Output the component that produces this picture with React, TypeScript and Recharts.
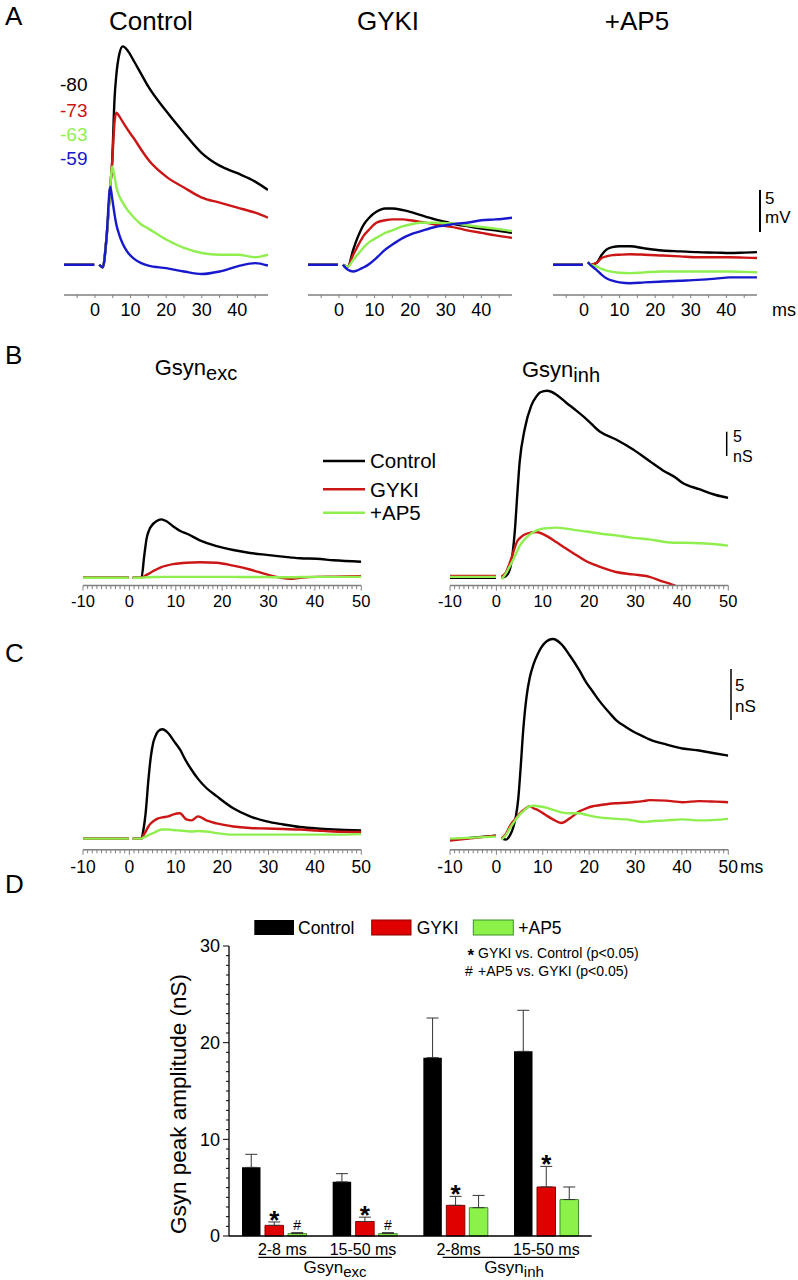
import React from "react";
import { LineChart, Line, XAxis, YAxis, BarChart, Bar, ErrorBar, LabelList } from "recharts";

const FONT = '"Liberation Sans", Arial, Helvetica, sans-serif';
const BLACK = "#000000";
const RED = "#cc1515";
const GREEN = "#8fef4f";
const BLUE = "#1818cc";
const AXIS_GRAY = "#7f7f7f";

// ---------- A: membrane potential, mV relative to baseline ----------
const ctrlTime = [-8.7, -0.2, 0.5, 1.2, 2.2, 3.2, 4.3, 4.8, 5.5, 6.0, 6.8, 7.8, 9, 11, 13, 15, 20, 25, 30, 35, 40, 45, 48.6];
const ctrlV80 = [0, 0, null, 0, -0.3, 3.0, 9.3, 12.0, 19.8, 22.6, 25.0, 26.0, 25.6, 24.2, 22.7, 21.2, 18.3, 15.7, 13.3, 11.8, 10.9, 9.9, 8.9];
const ctrlV73 = [0, 0, null, 0, -0.3, 3.0, 9.3, 12.0, 17.0, 18.1, 17.7, 17.0, 16.2, 15.0, 13.7, 12.5, 10.5, 9.2, 8.0, 7.4, 6.8, 6.2, 5.6];
const ctrlV63 = [0, 0, null, 0, -0.3, 3.0, 9.3, 11.7, 10.5, 9.3, 8.2, 7.4, 6.6, 5.6, 4.8, 4.3, 3.0, 2.0, 1.4, 1.2, 1.2, 0.9, 1.2];
const ctrlV59 = [0, 0, null, 0, -0.3, 3.0, 9.3, 8.0, 6.0, 4.8, 3.6, 2.5, 1.6, 0.7, 0.2, -0.1, -0.4, -0.8, -1.1, -0.8, -0.2, 0.2, -0.1];

const gykiTime = [-8.7, -0.3, 0.4, 1.1, 2.5, 4, 5, 6, 7, 8.5, 10.5, 13, 15, 18, 20, 23, 27, 30, 33, 36, 40, 44, 48.6];
const gykiV80 = [0, 0, null, 0, -0.2, 1.8, 3.0, 4.0, 4.8, 5.6, 6.3, 6.7, 6.7, 6.5, 6.3, 5.9, 5.4, 5.1, 4.8, 4.6, 4.3, 4.1, 3.8];
const gykiV73 = [0, 0, null, 0, -0.2, 1.2, 2.0, 2.8, 3.5, 4.2, 5.0, 5.3, 5.4, 5.4, 5.3, 5.1, 4.8, 4.6, 4.4, 4.1, 3.8, 3.5, 3.2];
const gykiV63 = [0, 0, null, 0, -0.2, 0.6, 1.1, 1.6, 2.1, 2.7, 3.2, 3.8, 4.1, 4.6, 4.8, 5.0, 5.0, 4.95, 4.9, 4.7, 4.5, 4.3, 4.0];
const gykiV59 = [0, 0, null, 0, -0.6, -0.8, -0.7, -0.5, -0.3, 0.1, 0.8, 1.8, 2.4, 3.2, 3.6, 4.0, 4.5, 4.7, 4.9, 5.0, 5.3, 5.4, 5.6];

const ap5Time = [-8.7, -0.3, 0.4, 1.1, 2, 3.5, 5, 6.3, 8, 10, 13, 17, 22, 27, 32, 37, 41, 45, 48.6];
const ap5V80 = [0, 0, null, 0.3, 0, 0.2, 1.2, 1.8, 2.1, 2.2, 2.2, 1.95, 1.7, 1.6, 1.5, 1.45, 1.4, 1.45, 1.5];
const ap5V73 = [0, 0, null, 0.3, 0, 0.2, 0.8, 1.0, 1.15, 1.2, 1.25, 1.2, 1.1, 1.0, 0.9, 0.9, 0.9, 0.85, 0.8];
const ap5V63 = [0, 0, null, 0.3, 0, -0.2, -0.5, -0.7, -0.85, -0.95, -1.0, -0.9, -0.8, -0.8, -0.8, -0.8, -0.8, -0.85, -0.9];
const ap5V59 = [0, 0, null, 0.3, -0.1, -0.6, -1.2, -1.6, -1.9, -2.1, -2.2, -2.1, -2.0, -1.9, -1.8, -1.65, -1.5, -1.5, -1.5];

const aTicks = [-5, 0, 5, 10, 15, 20, 25, 30, 35, 40, 45];

// ---------- B: conductances, nS ----------
const bExcTime = [-10, -0.1, 0.3, 0.7, 2.6, 3.2, 3.7, 4.3, 4.8, 5.8, 6.9, 8, 9.4, 11, 12.3, 15.2, 18.8, 22.4, 26, 29.6, 32.5, 34.6, 36.8, 40.4, 44, 50];
const bExcControl = [0, 0, null, 0, 0, 4.5, 8.0, 9.9, 10.7, 11.6, 12.0, 11.6, 10.6, 9.6, 9.1, 7.7, 6.5, 5.7, 5.1, 4.7, 4.4, 4.2, 4.0, 3.9, 3.6, 3.3];
const bExcGyki = [0, 0, null, 0, 0, 0.3, 0.6, 0.9, 1.2, 1.7, 2.2, 2.5, 2.8, 3.0, 3.1, 3.2, 3.1, 2.5, 1.7, 0.7, 0.05, -0.2, 0, 0.2, 0.25, 0.35];
const bExcAp5 = [0, 0, null, 0, 0, 0.05, 0.1, 0.1, 0.15, 0.15, 0.2, 0.2, 0.2, 0.2, 0.2, 0.2, 0.2, 0.2, 0.15, 0.15, 0.1, 0.1, 0.15, 0.2, 0.2, 0.2];

const bInhTime = [-10, -0.1, 0.4, 1.1, 2.0, 2.9, 3.5, 4.0, 4.5, 5.0, 6.1, 7.5, 8.6, 9.5, 11, 12.8, 15, 17, 19.4, 22.2, 25.8, 29.4, 33, 36, 38.6, 40.1, 43.7, 47.3, 50];
const bInhControl = [0, 0, null, 0, 0.3, 1.7, 5.0, 9.9, 17.0, 23.6, 30.5, 35.3, 37.2, 38.1, 38.4, 37.7, 36.0, 34.5, 32.6, 30.1, 28.4, 26.4, 24.0, 22.0, 20.6, 19.5, 18.2, 17.0, 16.4];
const bInhGyki = [0.4, 0.4, null, 0.3, 1.0, 3.1, 4.8, 6.3, 7.5, 8.1, 8.9, 9.3, 9.4, 9.2, 8.5, 7.4, 6.0, 4.8, 3.4, 2.3, 1.2, 0.7, 0.2, -0.8, -1.6, null, null, null, null];
const bInhAp5 = [0.2, 0.2, null, -0.3, 0.8, 2.4, 3.5, 4.5, 5.5, 6.5, 7.9, 9.1, 9.7, 10.0, 10.2, 10.3, 10.1, 9.8, 9.5, 9.1, 8.7, 8.2, 7.9, 7.4, 7.2, 7.2, 7.1, 6.9, 6.6];

// ---------- C: conductances, nS ----------
const cExcTime = [-10, -0.1, 0.3, 0.7, 2.6, 3.0, 3.5, 4.1, 4.6, 5.1, 5.6, 6.2, 7.1, 8.4, 9.5, 10.9, 12.3, 13.4, 14.8, 16.6, 18.8, 22.4, 26, 29.6, 33.2, 36.8, 40.4, 44, 50];
const cExcControl = [0, 0, null, 0, 0, 0.8, 2.5, 5.8, 8.0, 9.4, 10.1, 10.6, 10.8, 10.4, 9.7, 8.8, 7.6, 6.8, 5.9, 5.0, 4.2, 3.0, 2.2, 1.7, 1.4, 1.15, 1.0, 0.9, 0.8];
const cExcGyki = [0, 0, null, 0, 0, 0.3, 0.7, 1.2, 1.5, 1.7, 1.85, 2.0, 2.1, 2.2, 2.4, 2.5, 1.9, 1.8, 2.2, 1.8, 1.5, 1.2, 1.05, 1.0, 0.95, 0.9, 0.8, 0.7, 0.65];
const cExcAp5 = [0, 0, null, 0, 0, 0.1, 0.2, 0.35, 0.45, 0.55, 0.65, 0.8, 0.9, 0.9, 0.85, 0.8, 0.75, 0.7, 0.75, 0.7, 0.55, 0.4, 0.4, 0.4, 0.4, 0.4, 0.4, 0.4, 0.45];

const cInhTime = [-10, -0.1, 0.4, 1.1, 2.1, 3.0, 3.6, 4.2, 4.7, 5.2, 5.8, 6.5, 7.2, 8.0, 9.0, 10.4, 12.2, 14.0, 15.8, 17.9, 19.4, 20.8, 22.2, 24.4, 25.8, 28, 29.4, 31.6, 33, 36.6, 40.1, 43.7, 47.3, 50];
const cInhControl = [-0.1, 0.3, null, 0.1, -0.1, 0.4, 1.05, 2.2, 3.85, 6.8, 10.8, 14.0, 15.9, 17.2, 18.3, 19.3, 19.7, 19.2, 18.1, 16.6, 15.4, 14.5, 13.6, 12.4, 11.7, 11.0, 10.6, 10.1, 9.8, 9.3, 8.9, 8.7, 8.4, 8.2];
const cInhGyki = [-0.2, 0.3, null, 0.0, 0.5, 1.3, 1.7, 2.0, 2.3, 2.55, 2.8, 3.05, 3.2, 3.0, 2.8, 2.4, 1.9, 1.55, 2.0, 2.7, 3.0, 3.2, 3.3, 3.45, 3.5, 3.55, 3.6, 3.7, 3.8, 3.75, 3.6, 3.7, 3.65, 3.6];
const cInhAp5 = [0.0, 0.2, null, -0.1, 0.4, 1.1, 1.5, 1.9, 2.2, 2.45, 2.7, 3.0, 3.2, 3.25, 3.2, 3.1, 2.85, 2.6, 2.5, 2.5, 2.35, 2.2, 2.1, 2.0, 1.95, 1.9, 1.8, 1.65, 1.7, 1.8, 1.9, 1.8, 1.85, 1.95];

const rulerTicks = Array.from({ length: 61 }, (_, i) => i - 10);

// ---------- D: peak amplitudes ----------
const dKeys = ["exc-early", "exc-late", "inh-early", "inh-late"];
const dCategories = ["2-8 ms", "15-50 ms", "2-8ms", "15-50 ms"];
const dControl = [7.1, 5.6, 18.45, 19.1];
const dControlErr = [1.35, 0.85, 4.1, 4.25];
const dGyki = [1.1, 1.5, 3.17, 5.07];
const dGykiErr = [0.35, 0.45, 0.93, 2.13];
const dAp5 = [0.25, 0.25, 2.93, 3.77];
const dAp5Err = [0.1, 0.1, 1.27, 1.3];
const dGykiSig = ["*", "*", "*", "*"];
const dAp5Sig = ["#", "#", "", ""];
const dYTicks = Array.from({ length: 31 }, (_, i) => i);

const rows = (time: number[], cols: Record<string, (number | null)[]>) =>
  time.map((t, i) => {
    const r: any = { t };
    for (const k in cols) r[k] = cols[k][i];
    return r;
  });

const vmSeries = [
  { key: "v80", color: BLACK },
  { key: "v73", color: RED },
  { key: "v63", color: GREEN },
  { key: "v59", color: BLUE },
];
const gSeries = [
  { key: "control", color: BLACK },
  { key: "gyki", color: RED },
  { key: "ap5", color: GREEN },
];

const PAD = 24; // side room so edge tick labels are not cut

const TraceTick = (p: any) => {
  const { x, y, payload, fontSize, labelOffset, tickLen, majorLen } = p;
  const v = payload.value;
  const isLabel = Math.abs(v % 10) < 1e-6;
  return (
    <g>
      <line x1={x} x2={x} y1={y} y2={y + (isLabel ? majorLen : tickLen)} stroke={AXIS_GRAY} strokeWidth={1} />
      {isLabel && (
        <text x={x} y={y + labelOffset + fontSize * 0.36} textAnchor="middle" fontSize={fontSize} fontFamily={FONT} fill="#000">
          {v}
        </text>
      )}
    </g>
  );
};

function TracePlot(props: any) {
  const { left, top, width, plotH, data, series, xDomain, yDomain, ticks, fontSize, labelOffset, tickLen, majorLen } = props;
  return (
    <div style={{ position: "absolute", left: left - PAD, top }}>
      <LineChart width={width + 2 * PAD} height={plotH + 30} data={data} margin={{ top: 0, right: PAD, bottom: 0, left: PAD }}>
        <XAxis
          dataKey="t"
          type="number"
          domain={xDomain}
          allowDataOverflow
          ticks={ticks}
          interval={0}
          height={30}
          axisLine={{ stroke: AXIS_GRAY, strokeWidth: 1.5 }}
          tickLine={false}
          tickSize={0}
          tickMargin={0}
          tick={(p: any) => (
            <TraceTick {...p} fontSize={fontSize} labelOffset={labelOffset} tickLen={tickLen} majorLen={majorLen} />
          )}
        />
        <YAxis hide type="number" domain={yDomain} allowDataOverflow />
        {series.map((s: any) => (
          <Line
            key={s.key}
            dataKey={s.key}
            stroke={s.color}
            strokeWidth={2.4}
            dot={false}
            type="monotone"
            isAnimationActive={false}
          />
        ))}
      </LineChart>
    </div>
  );
}

const sigLabel = (vals: number[], errs: number[], fontSize: number, shift: number, bold: boolean) => (p: any) => {
  const box = p.x !== undefined ? p : p.viewBox || {};
  const { x, y, width, height } = box;
  const i = p.index;
  if (!p.value || x === undefined) return null;
  const ppu = height / vals[i];
  const errTop = y - errs[i] * ppu;
  return (
    <text
      x={x + width / 2}
      y={errTop + shift}
      textAnchor="middle"
      fontSize={fontSize}
      fontWeight={bold ? "bold" : "normal"}
      fontFamily={FONT}
      fill="#000"
    >
      {p.value}
    </text>
  );
};

const DYTick = (p: any) => {
  const { x, y, payload } = p;
  const v = payload.value;
  const major = v % 10 === 0;
  return (
    <g>
      <line x1={x} x2={x - (major ? 6 : 3)} y1={y} y2={y} stroke="#000" strokeWidth={1} />
      {major && (
        <text x={x - 9} y={y + 18 * 0.36} textAnchor="end" fontSize={18} fontFamily={FONT} fill="#000">
          {v}
        </text>
      )}
    </g>
  );
};

// labels in the original sit a little off the group centres
const dLabelShift = [8, -2, 3, 0];

const DXTick = (p: any) => {
  const { x, y, index } = p;
  return (
    <text x={x + dLabelShift[index]} y={y + 19} textAnchor="middle" fontSize={16} fontFamily={FONT} fill="#000">
      {dCategories[index]}
    </text>
  );
};

const Sub = ({ x, y, main, sub, size, subSize, dy }: any) => (
  <text x={x} y={y} textAnchor="middle" fontSize={size} fontFamily={FONT} fill="#000">
    <tspan>{main}</tspan>
    <tspan dy={dy} fontSize={subSize}>
      {sub}
    </tspan>
  </text>
);

export default function App() {
  const ctrlData = rows(ctrlTime, { v80: ctrlV80, v73: ctrlV73, v63: ctrlV63, v59: ctrlV59 });
  const gykiData = rows(gykiTime, { v80: gykiV80, v73: gykiV73, v63: gykiV63, v59: gykiV59 });
  const ap5Data = rows(ap5Time, { v80: ap5V80, v73: ap5V73, v63: ap5V63, v59: ap5V59 });
  const bExcData = rows(bExcTime, { control: bExcControl, gyki: bExcGyki, ap5: bExcAp5 });
  const bInhData = rows(bInhTime, { control: bInhControl, gyki: bInhGyki, ap5: bInhAp5 });
  const cExcData = rows(cExcTime, { control: cExcControl, gyki: cExcGyki, ap5: cExcAp5 });
  const cInhData = rows(cInhTime, { control: cInhControl, gyki: cInhGyki, ap5: cInhAp5 });

  const dData = dKeys.map((k, i) => ({
    key: k,
    control: dControl[i],
    controlErr: [0, dControlErr[i]],
    gyki: dGyki[i],
    gykiErr: [0, dGykiErr[i]],
    ap5: dAp5[i],
    ap5Err: [0, dAp5Err[i]],
    gykiSig: dGykiSig[i],
    ap5Sig: dAp5Sig[i],
  }));

  const aCommon = {
    width: 204,
    plotH: 257,
    series: vmSeries,
    xDomain: [-8.7, 48.6],
    yDomain: [-3.6, 27],
    ticks: aTicks,
    fontSize: 18,
    labelOffset: 15,
    tickLen: 3,
    majorLen: 3,
  };
  const bCommon = {
    width: 278.3,
    plotH: 202.6,
    series: gSeries,
    xDomain: [-10, 50],
    yDomain: [-1.6, 40],
    ticks: rulerTicks,
    fontSize: 16.5,
    labelOffset: 15.7,
    tickLen: 3.5,
    majorLen: 5,
  };
  const cCommon = {
    width: 278.3,
    plotH: 215.8,
    series: gSeries,
    xDomain: [-10, 50],
    yDomain: [-1.1, 20.2],
    ticks: rulerTicks,
    fontSize: 17.5,
    labelOffset: 16.7,
    tickLen: 3.5,
    majorLen: 5,
  };

  const D_TOP_PAD = 14;

  return (
    <div style={{ position: "absolute", left: 0, top: 0, width: 798, height: 1280, background: "#fff", overflow: "hidden" }}>
      <TracePlot {...aCommon} left={64} top={38} data={ctrlData} />
      <TracePlot {...aCommon} left={308} top={38} data={gykiData} />
      <TracePlot {...aCommon} left={553} top={38} data={ap5Data} />

      <TracePlot {...bCommon} left={82.7} top={383.4} data={bExcData} />
      <TracePlot {...bCommon} left={450} top={383.4} data={bInhData} />

      <TracePlot {...cCommon} left={82.7} top={634.2} data={cExcData} />
      <TracePlot {...cCommon} left={450} top={634.2} data={cInhData} />

      <div style={{ position: "absolute", left: 169, top: 945.7 - D_TOP_PAD }}>
        <BarChart
          width={422.7}
          height={330 + D_TOP_PAD}
          data={dData}
          barGap={4.5}
          margin={{ top: D_TOP_PAD, right: 0, bottom: 0, left: 0 }}
        >
          <XAxis
            dataKey="key"
            height={40}
            interval={0}
            axisLine={{ stroke: "#000", strokeWidth: 1.3 }}
            tickLine={false}
            tickSize={0}
            tickMargin={0}
            tick={(p: any) => <DXTick {...p} />}
          />
          <YAxis
            type="number"
            domain={[0, 30]}
            ticks={dYTicks}
            interval={0}
            width={60}
            axisLine={{ stroke: "#000", strokeWidth: 1.3 }}
            tickLine={false}
            tickSize={0}
            tickMargin={0}
            tick={(p: any) => <DYTick {...p} />}
          />
          <Bar dataKey="control" fill="#000" barSize={18.5} isAnimationActive={false}>
            <ErrorBar dataKey="controlErr" width={6} stroke="#333" strokeWidth={1} direction="y" />
          </Bar>
          <Bar dataKey="gyki" fill="#e00000" stroke="#8a0000" strokeWidth={1} barSize={18.5} isAnimationActive={false}>
            <ErrorBar dataKey="gykiErr" width={6} stroke="#333" strokeWidth={1} direction="y" />
            <LabelList dataKey="gykiSig" content={sigLabel(dGyki, dGykiErr, 26, 7, true)} />
          </Bar>
          <Bar dataKey="ap5" fill="#8cf24a" stroke="#3f8f2a" strokeWidth={1} barSize={18.5} isAnimationActive={false}>
            <ErrorBar dataKey="ap5Err" width={6} stroke="#333" strokeWidth={1} direction="y" />
            <LabelList dataKey="ap5Sig" content={sigLabel(dAp5, dAp5Err, 14, -3, false)} />
          </Bar>
        </BarChart>
      </div>

      <svg width={798} height={1280} style={{ position: "absolute", left: 0, top: 0, pointerEvents: "none" }}>
        <g fontFamily={FONT} fill="#000">
          {/* panel A */}
          <text x={5} y={25} fontSize={26}>A</text>
          <text x={151} y={30} textAnchor="middle" fontSize={26}>Control</text>
          <text x={388} y={30} textAnchor="middle" fontSize={26}>GYKI</text>
          <text x={637} y={30} textAnchor="middle" fontSize={26}>+AP5</text>
          <text x={60} y={90.7} fontSize={19} fill={BLACK}>-80</text>
          <text x={60} y={116.7} fontSize={19} fill={RED}>-73</text>
          <text x={60} y={140.5} fontSize={19} fill={GREEN}>-63</text>
          <text x={60} y={165} fontSize={19} fill={BLUE}>-59</text>
          <line x1={760} x2={760} y1={190} y2={232} stroke="#000" strokeWidth={2} />
          <text x={765} y={204} fontSize={17}>5</text>
          <text x={765} y={223} fontSize={17}>mV</text>
          <text x={772} y={315.5} fontSize={18}>ms</text>

          {/* panel B */}
          <text x={5} y={364} fontSize={26}>B</text>
          <Sub x={196} y={375} main="Gsyn" sub="exc" size={22} subSize={20} dy={5} />
          <Sub x={561} y={377} main="Gsyn" sub="inh" size={22} subSize={20} dy={5} />
          <line x1={323} x2={365} y1={461} y2={461} stroke={BLACK} strokeWidth={2.5} />
          <line x1={323} x2={365} y1={489.3} y2={489.3} stroke={RED} strokeWidth={2.5} />
          <line x1={323} x2={365} y1={512.7} y2={512.7} stroke={GREEN} strokeWidth={2.5} />
          <text x={370} y={468.3} fontSize={20.5}>Control</text>
          <text x={370} y={496.7} fontSize={20.5}>GYKI</text>
          <text x={370} y={520} fontSize={20.5}>+AP5</text>
          <line x1={726.7} x2={726.7} y1={431.7} y2={456} stroke="#000" strokeWidth={1.5} />
          <text x={733} y={441.5} fontSize={16}>5</text>
          <text x={733} y={461.5} fontSize={16}>nS</text>

          {/* panel C */}
          <text x={5} y={662} fontSize={26}>C</text>
          <line x1={731} x2={731} y1={669} y2={720} stroke="#000" strokeWidth={1.5} />
          <text x={735} y={690.5} fontSize={17}>5</text>
          <text x={735} y={711.5} fontSize={17}>nS</text>
          <text x={740} y={872.5} fontSize={17.5}>ms</text>

          {/* panel D */}
          <text x={5} y={893} fontSize={26}>D</text>
          <rect x={254.3} y={920} width={39.7} height={15} fill="#000" />
          <text x={298} y={934} fontSize={17.5}>Control</text>
          <rect x={371.7} y={920} width={39.3} height={15} fill="#e00000" stroke="#8a0000" strokeWidth={1} />
          <text x={416.7} y={934} fontSize={17.5}>GYKI</text>
          <rect x={473.3} y={920} width={40} height={15} fill="#8cf24a" stroke="#3f8f2a" strokeWidth={1} />
          <text x={518.3} y={934} fontSize={17.5}>+AP5</text>
          <text x={474} y={960.5} textAnchor="end" fontSize={17} fontWeight="bold">*</text>
          <text x={478} y={958.3} fontSize={14}>GYKI vs. Control (p&lt;0.05)</text>
          <text x={465} y={976} fontSize={14}>#</text>
          <text x={478} y={976} fontSize={14}>+AP5 vs. GYKI (p&lt;0.05)</text>
          <line x1={258.3} x2={391.7} y1={1257.3} y2={1257.3} stroke="#000" strokeWidth={1.3} />
          <line x1={442.7} x2={575} y1={1257.3} y2={1257.3} stroke="#000" strokeWidth={1.3} />
          <Sub x={335} y={1273} main="Gsyn" sub="exc" size={17} subSize={15} dy={4} />
          <Sub x={514} y={1273} main="Gsyn" sub="inh" size={17} subSize={15} dy={4} />
          <text x={186} y={1104} textAnchor="middle" fontSize={22.5} transform="rotate(-90 186 1104)">
            Gsyn peak amplitude (nS)
          </text>
        </g>
      </svg>
    </div>
  );
}
